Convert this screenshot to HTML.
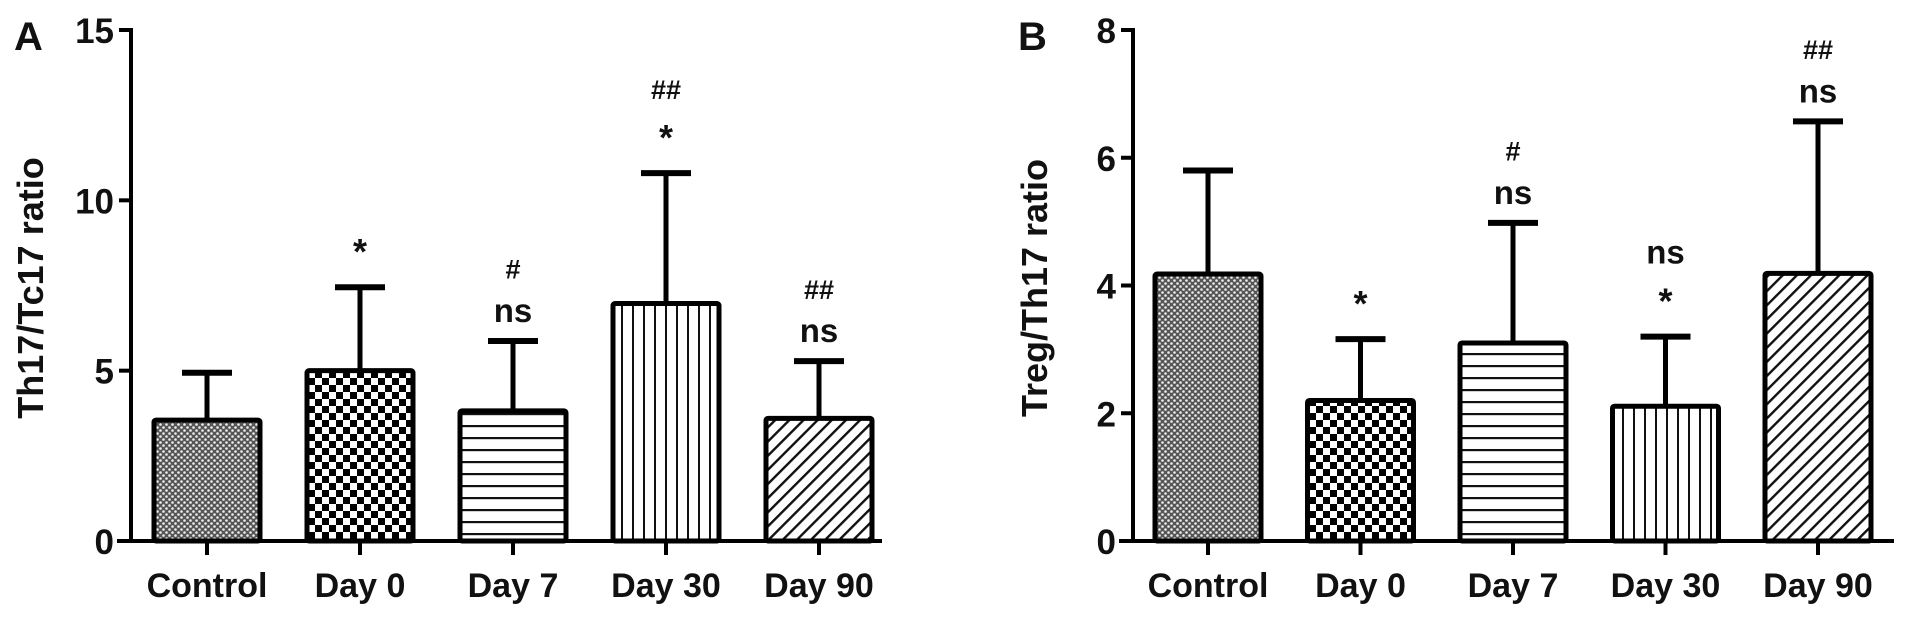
<!DOCTYPE html>
<html><head><meta charset="utf-8"><style>
html,body{margin:0;padding:0;background:#fff;}
svg{display:block;font-family:"Liberation Sans",Arial,sans-serif;}
</style></head><body>
<svg id="chart" width="1913" height="619" viewBox="0 0 1913 619" xmlns="http://www.w3.org/2000/svg">
<defs>
<pattern id="p0" width="6" height="6" patternUnits="userSpaceOnUse"><rect width="6" height="6" fill="#555"/><circle cx="1.5" cy="1.5" r="1.3" fill="#eee"/><circle cx="4.5" cy="4.5" r="1.3" fill="#eee"/></pattern>
<pattern id="p1" width="14" height="14" patternUnits="userSpaceOnUse"><rect width="14" height="14" fill="#fff"/><rect width="7" height="7" fill="#000"/><rect x="7" y="7" width="7" height="7" fill="#000"/></pattern>
<pattern id="p2" width="12" height="12" patternUnits="userSpaceOnUse"><rect width="12" height="12" fill="#fff"/><rect y="5" width="12" height="2.2" fill="#111"/></pattern>
<pattern id="p3" width="11" height="11" patternUnits="userSpaceOnUse"><rect width="11" height="11" fill="#fff"/><rect x="5" width="2" height="11" fill="#111"/></pattern>
<pattern id="p4" width="10" height="10" patternUnits="userSpaceOnUse" patternTransform="rotate(45)"><rect width="10" height="10" fill="#fff"/><rect x="4" width="2.4" height="10" fill="#111"/></pattern>
</defs>
<g id="panelA"></g>
<g id="panelB"></g>
</svg>
<script>
const categories = ["Control","Day 0","Day 7","Day 30","Day 90"];
const valuesA = [3.55, 5.0, 3.82, 6.97, 3.6];
const errA = [4.94, 7.45, 5.87, 10.8, 5.28];
const ticksA = [0, 5, 10, 15];
const annotA = [[], ["*"], ["ns","#"], ["*","##"], ["ns","##"]];
const valuesB = [4.18, 2.2, 3.1, 2.11, 4.19];
const errB = [5.8, 3.16, 4.98, 3.2, 6.57];
const ticksB = [0, 2, 4, 6, 8];
const annotB = [[], ["*"], ["ns","#"], ["*","ns"], ["ns","##"]];

const NS = "http://www.w3.org/2000/svg";
function mk(parent, tag, attrs, text){
  const e = document.createElementNS(NS, tag);
  for (const k in attrs) e.setAttribute(k, attrs[k]);
  if (text !== undefined) e.textContent = text;
  parent.appendChild(e);
  return e;
}
function panel(g, cfg){
  const y = v => cfg.y0 - (v - 0) / cfg.max * (cfg.y0 - cfg.yTop);
  const x = i => cfg.x0 + i * cfg.step;
  cfg.values.forEach((v,i)=>{
    const cx = x(i), w = 106;
    const eb = mk(g,"line",{x1:cx,x2:cx,y1:y(v),y2:y(cfg.err[i]),stroke:"#000","stroke-width":5});
    
    
    const cap = mk(g,"line",{x1:cx-25,x2:cx+25,y1:y(cfg.err[i]),y2:y(cfg.err[i]),stroke:"#000","stroke-width":6});
    
    
    const r = mk(g,"rect",{x:cx-w/2,y:y(v),width:w,height:y(0)-y(v),fill:"url(#p"+i+")",stroke:"#000","stroke-width":5,rx:2});
    
    
    // annotations: centre positions stacked above the cap
    let c = y(cfg.err[i]);
    cfg.annot[i].forEach((a,k)=>{
      let center, fs, base;
      if (a === "*") { center = c - (k===0?40:42); fs = 36; base = center + 0.62*fs*0.75; }
      else if (a === "ns") { center = c - (k===0?28:42); fs = 33; base = center + 0.27*fs; }
      else { center = c - 44; fs = 27; base = center + 0.36*fs; }
      const t = mk(g,"text",{x:cx,y:base,"text-anchor":"middle","font-size":fs,"font-weight":"bold",fill:"#111"},a);
      
      
      c = center;
    });
    const xt = mk(g,"line",{x1:cx,x2:cx,y1:cfg.y0,y2:cfg.y0+14,stroke:"#000","stroke-width":4});
    
    
    const xl = mk(g,"text",{x:cx,y:597,"text-anchor":"middle","font-size":34,"font-weight":"bold",fill:"#111"},categories[i]);
    
    
  });
  const ya = mk(g,"line",{x1:cfg.ax,x2:cfg.ax,y1:cfg.yTop-2,y2:cfg.y0+2,stroke:"#000","stroke-width":4});
  
  
  const xa = mk(g,"line",{x1:cfg.ax-14,x2:cfg.xEnd,y1:cfg.y0,y2:cfg.y0,stroke:"#000","stroke-width":4});
  
  
  cfg.ticks.forEach(t=>{
    const tl = mk(g,"line",{x1:cfg.ax-12,x2:cfg.ax,y1:y(t),y2:y(t),stroke:"#000","stroke-width":4});
    
    
    const tt = mk(g,"text",{x:cfg.ax-17,y:y(t)+13,"text-anchor":"end","font-size":35,"font-weight":"bold",fill:"#111"},t);
    
    
  });
  const ttl = mk(g,"text",{x:0,y:0,"text-anchor":"middle","font-size":36,"font-weight":"bold",fill:"#111",transform:"translate("+(cfg.titleX)+",288) rotate(-90)"},cfg.title);
  
  
  const pl = mk(g,"text",{x:cfg.letterX,y:50,"font-size":40,"font-weight":"bold",fill:"#111"},cfg.letter);
  
  
}
panel(document.getElementById("panelA"),{values:valuesA,err:errA,ticks:ticksA,annot:annotA,max:15,y0:541,yTop:30,x0:207,step:153,ax:131,xEnd:882,title:"Th17/Tc17  ratio",titleX:43,letter:"A",letterX:14});
panel(document.getElementById("panelB"),{values:valuesB,err:errB,ticks:ticksB,annot:annotB,max:8,y0:541,yTop:30,x0:1208,step:152.5,ax:1133,xEnd:1894,title:"Treg/Th17 ratio",titleX:1047,letter:"B",letterX:1018});
</script>
</body></html>
